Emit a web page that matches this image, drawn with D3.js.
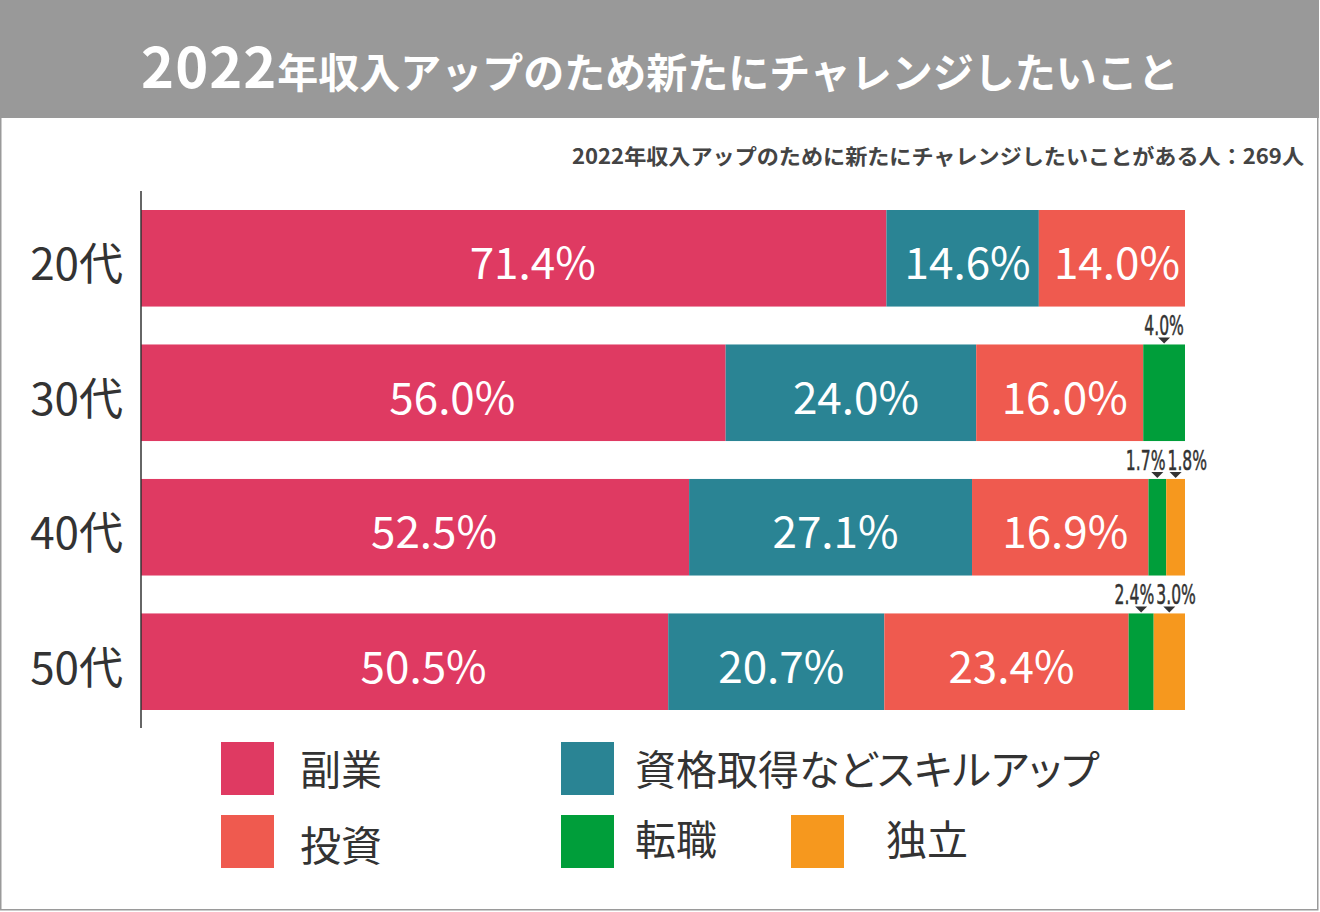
<!DOCTYPE html>
<html><head><meta charset="utf-8">
<script src="https://cdn.jsdelivr.net/npm/d3@7"></script>
<style>
html,body{margin:0;padding:0;background:#fff;}
svg{display:block;}
</style>
</head><body>
<svg id="chart" width="1320" height="912"></svg>
<script>
const title = "2022年収入アップのため新たにチャレンジしたいこと";
const subtitle = "2022年収入アップのために新たにチャレンジしたいことがある人：269人";
const ages = ["20代", "30代", "40代", "50代"];
const seriesNames = ["副業", "資格取得などスキルアップ", "投資", "転職", "独立"];
const seriesColors = ["#DF3A62", "#2A8494", "#EF5A4F", "#009E3A", "#F6981E"];
const sideJob   = [71.4, 56.0, 52.5, 50.5];
const skillUp   = [14.6, 24.0, 27.1, 20.7];
const invest    = [14.0, 16.0, 16.9, 23.4];
const jobChange = [0, 4.0, 1.7, 2.4];
const independ  = [0, 0, 1.8, 3.0];
const seriesValues = [sideJob, skillUp, invest, jobChange, independ];

const svg = d3.select("#chart");
const W = 1320, H = 912;
const CJK = "'Noto Sans CJK JP','Noto Sans',sans-serif";

// frame
svg.append("rect").attr("x",0.75).attr("y",0.75).attr("width",W-3).attr("height",H-3)
  .attr("fill","#fff").attr("stroke","#9a9a9a").attr("stroke-width",1.5);
// title band
svg.append("rect").attr("x",0).attr("y",0).attr("width",W-1).attr("height",118).attr("fill","#999999");
const tt = svg.append("text").attr("x",660).attr("y",88).attr("text-anchor","middle")
  .attr("fill","#fff").attr("font-family",CJK).attr("font-weight",700);
tt.append("tspan").attr("font-size",56).attr("letter-spacing",1).text(title.slice(0,4));
tt.append("tspan").attr("font-size",41).attr("letter-spacing",0).text(title.slice(4));

// subtitle
svg.append("text").attr("x",1304).attr("y",164).attr("text-anchor","end")
  .attr("fill","#444").attr("font-family",CJK).attr("font-weight",700).attr("font-size",21)
  .attr("textLength",732).attr("lengthAdjust","spacingAndGlyphs").text(subtitle);

const x = d3.scaleLinear().domain([0,100]).range([141,1185]);
const y = d3.scaleBand().domain(ages).range([210,710]).paddingInner(0.282).paddingOuter(0);

// stacked data
const rows = ages.map((a,i)=>{ const o={age:a}; seriesNames.forEach((s,j)=>o[s]=seriesValues[j][i]); return o;});
const stacked = d3.stack().keys(seriesNames)(rows);

const g = svg.append("g");
stacked.forEach((layer,j)=>{
  g.selectAll(null).data(layer.filter(d=>d[1]-d[0]>0)).enter().append("rect")
    .attr("x",d=>x(d[0])).attr("y",d=>y(d.data.age))
    .attr("width",d=>x(d[1])-x(d[0])).attr("height",y.bandwidth())
    .attr("fill",seriesColors[j]);
});

// axis line
svg.append("line").attr("x1",141).attr("x2",141).attr("y1",191).attr("y2",728)
  .attr("stroke","#333").attr("stroke-width",1.5);

// category labels
svg.selectAll(null).data(ages).enter().append("text")
  .attr("x",123).attr("y",d=>y(d)+y.bandwidth()/2+22).attr("text-anchor","end")
  .attr("font-family",CJK).attr("font-size",44).attr("fill","#333").text(d=>d);

// big labels inside
stacked.forEach((layer,j)=>{
  layer.forEach(d=>{
    const v = d[1]-d[0];
    if (v < 10) return;
    svg.append("text").attr("x",(x(d[0])+x(d[1]))/2 + (j===0?19:5))
      .attr("y",y(d.data.age)+y.bandwidth()/2+21).attr("text-anchor","middle")
      .attr("font-family",CJK).attr("font-size",44).attr("font-weight",400).attr("fill","#fff")
      .text(v.toFixed(1)+"%");
  });
});

// small labels above
ages.forEach((a,i)=>{
  const small = [];
  stacked.forEach((layer,j)=>{ const d=layer[i]; const v=d[1]-d[0]; if(v>0 && v<10) small.push({d,v}); });
  const top = y(a);
  small.forEach((s,k)=>{
    const cx = (x(s.d[0])+x(s.d[1]))/2;
    svg.append("path").attr("d",`M${cx-6},${top-7}L${cx+6},${top-7}L${cx},${top-1}Z`).attr("fill","#333");
    let anchor="middle", tx=cx;
    if (small.length===2){
      const other = small[1-k]; const ocx=(x(other.d[0])+x(other.d[1]))/2;
      const mid=(cx+ocx)/2;
      if(k===0){anchor="end"; tx=mid-1;} else {anchor="start"; tx=mid+1;}
    }
    svg.append("text").attr("transform",`translate(${tx},${top-9}) scale(0.6,1)`)
      .attr("text-anchor",anchor).attr("font-family","'DejaVu Sans','Noto Sans',sans-serif")
      .attr("font-size",26).attr("fill","#333").attr("stroke","#333").attr("stroke-width",0.5)
      .text(s.v.toFixed(1)+"%");
  });
});

// legend
const legendPos = [[221,742],[561,742],[221,815],[561,815],[791,815]];
const legendText = [[300,785],[635,785],[300,861],[635,855],[886,855]];
seriesNames.forEach((s,j)=>{
  svg.append("rect").attr("x",legendPos[j][0]).attr("y",legendPos[j][1]).attr("width",53).attr("height",53)
    .attr("fill",seriesColors[j]);
  svg.append("text").attr("x",legendText[j][0]).attr("y",legendText[j][1])
    .attr("font-family",CJK).attr("font-size",41).attr("fill","#333")
    .style("font-feature-settings","'palt'").text(s);
});
</script>
</body></html>
